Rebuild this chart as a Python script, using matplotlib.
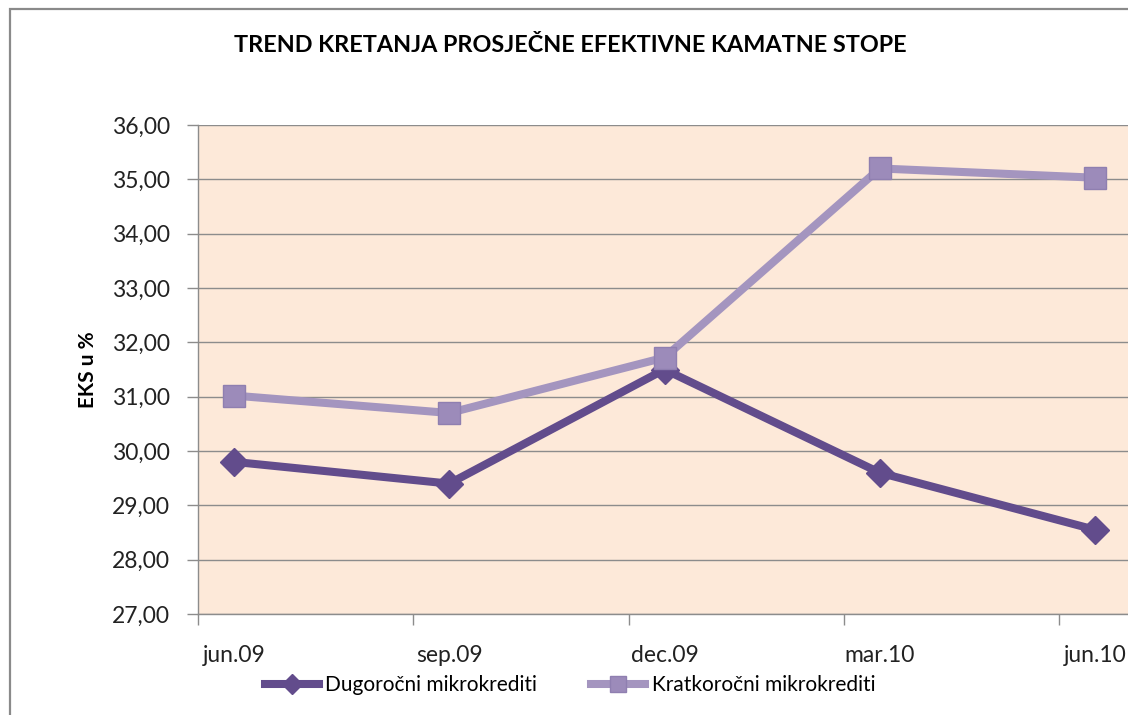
#!/usr/bin/env python3

import matplotlib
matplotlib.use("Agg")
import matplotlib.pyplot as plt
from matplotlib.patches import Rectangle

# chart values
periods = ['jun.09', 'sep.09', 'dec.09', 'mar.10', 'jun.10']
dugorocni = [29.80, 29.40, 31.50, 29.60, 28.55]
kratkorocni = [31.02, 30.70, 31.72, 35.20, 35.03]
y_ticks = [27, 28, 29, 30, 31, 32, 33, 34, 35, 36]

title = 'TREND KRETANJA PROSJEČNE EFEKTIVNE KAMATNE STOPE'
y_label = 'EKS u %'
label_dug = 'Dugoročni mikrokrediti'
label_krat = 'Kratkoročni mikrokrediti'

DARK_PURPLE = '#624C8C'
LIGHT_PURPLE = '#A495BF'
PLOT_BG = '#FDE9D9'
GRID = '#8C8C8C'

plt.rcParams['font.family'] = ['Lato', 'DejaVu Sans']

W, H = 1128, 715
fig = plt.figure(figsize=(W / 100, H / 100), dpi=100)

# outer chart border (right/bottom fall outside the picture)
fig.patches.append(Rectangle((10 / W, -0.1), 1.2, 1 - 9 / H + 0.1,
                             transform=fig.transFigure, fill=False,
                             edgecolor='#8A8A8A', linewidth=1.6))

left, right, top, bottom = 198, 1131, 125, 614
ax = fig.add_axes([left / W, 1 - bottom / H, (right - left) / W, (bottom - top) / H])
ax.set_facecolor(PLOT_BG)

# date axis in months: one 3-month step per period, points mid-month
xs = [i * 3 + 0.5 for i in range(len(periods))]

ax.plot(xs, dugorocni, color=DARK_PURPLE, lw=5.8, marker='D', ms=14,
        mfc=DARK_PURPLE, mec=DARK_PURPLE, label=label_dug, zorder=3,
        solid_joinstyle='round')
ax.plot(xs, kratkorocni, color=LIGHT_PURPLE, lw=5.8, marker='s', ms=16.5,
        mfc='#9C8BBA', mec='#8F7FB0', mew=1, label=label_krat, zorder=4,
        solid_joinstyle='round')

ax.set_xlim(0, 13)
ax.set_ylim(27, 36)
ax.set_yticks(y_ticks)
ax.set_yticklabels(['{:.2f}'.format(v).replace('.', ',') for v in y_ticks])
ax.grid(axis='y', color=GRID, lw=1)
ax.set_axisbelow(True)

ax.set_xticks(xs)
ax.set_xticklabels(periods)
ax.set_xticks([0, 3, 6, 9, 12], minor=True)
ax.tick_params(axis='x', which='major', length=0, pad=22, labelsize=16.5,
               labelcolor='#222222')
ax.tick_params(axis='x', which='minor', length=8, color=GRID, width=1)
ax.tick_params(axis='y', length=8, color=GRID, width=1, pad=12,
               labelsize=16.5, labelcolor='#222222')

for side in ('top', 'right'):
    ax.spines[side].set_visible(False)
for side in ('left', 'bottom'):
    ax.spines[side].set_color(GRID)
    ax.spines[side].set_linewidth(1)

ax.set_ylabel(y_label, fontsize=15, fontweight='bold', labelpad=10)
fig.text(570 / W, 1 - 45 / H, title, ha='center', va='center',
         fontsize=16.8, fontweight='bold')

fig.legend(loc='center', bbox_to_anchor=(570 / W, 1 - 685 / H), ncol=2,
           frameon=False, fontsize=15, handlelength=2.6, columnspacing=2.6,
           markerscale=0.7, handletextpad=0.3)

fig.savefig('out.png', dpi=100)
